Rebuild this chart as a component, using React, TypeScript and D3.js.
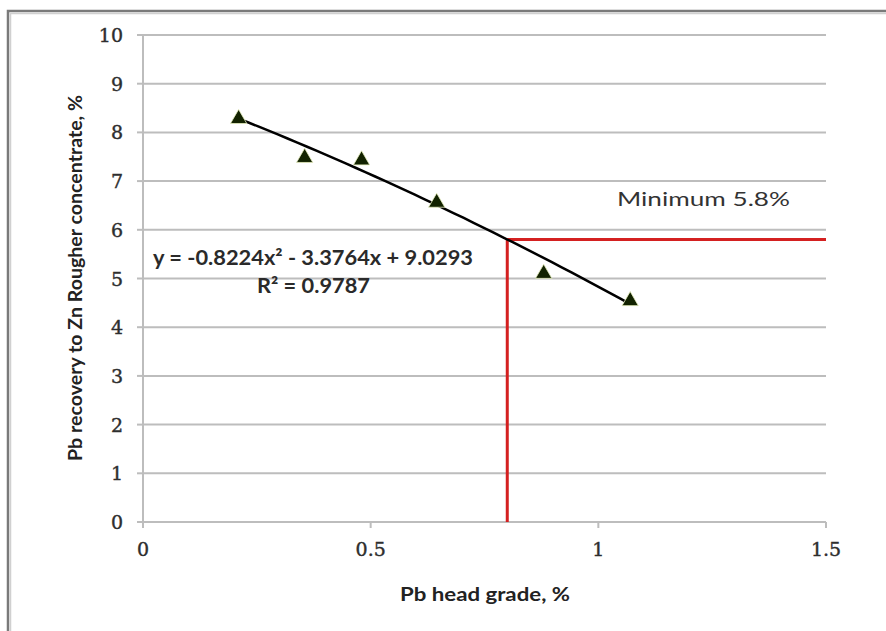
import React from "react";
import * as d3 from "d3";

const xTicks = [0, 0.5, 1, 1.5];
const yTicks = [0, 1, 2, 3, 4, 5, 6, 7, 8, 9, 10];
const headGrade = [0.21, 0.355, 0.48, 0.645, 0.88, 1.07];
const recovery = [8.3, 7.5, 7.45, 6.58, 5.12, 4.56];
const trendCoef = [-0.8224, -3.3764, 9.0293];
const minGrade = [0.8];
const minRecovery = [5.8];
const eqText = ["y = -0.8224x² - 3.3764x + 9.0293", "R² = 0.9787"];
const minLabel = "Minimum 5.8%";
const xTitle = "Pb head grade, %";
const yTitle = "Pb recovery to Zn Rougher concentrate, %";

const W = 886, H = 631;
const L = 143, R = 826, T = 35, B = 522;

export default function App() {
  const x = d3.scaleLinear().domain([0, 1.5]).range([L, R]);
  const y = d3.scaleLinear().domain([0, 10]).range([B, T]);
  const f = (v: number) => trendCoef[0] * v * v + trendCoef[1] * v + trendCoef[2];
  const x0 = d3.min(headGrade)!, x1 = d3.max(headGrade)!;
  const trendPts = d3.range(0, 41).map((i) => x0 + ((x1 - x0) * i) / 40);
  const line = d3.line<number>().x((v) => x(v)).y((v) => y(f(v)));
  const tri = d3.symbol().type(d3.symbolTriangle).size(115)()!;
  const sans = "Lato, 'Open Sans', sans-serif";
  const serif = "'DejaVu Serif', 'Liberation Serif', serif";
  return (
    <svg width={W} height={H} style={{ position: "absolute", left: 0, top: 0, background: "#fff" }}>
      <rect x={0} y={0} width={W} height={H} fill="#fff" />
      <rect x={8} y={11} width={W + 10} height={H + 10} fill="none" stroke="#7a7a7a" strokeWidth={2.5} />
      <rect x={10.5} y={13.5} width={W + 10} height={H + 10} fill="none" stroke="#d0d0d0" strokeWidth={1.5} />
      {yTicks.map((t) => (
        <g key={"y" + t}>
          <line x1={L} x2={R} y1={y(t)} y2={y(t)} stroke="#bdbdbd" strokeWidth={2} />
          <line x1={L - 6} x2={L} y1={y(t)} y2={y(t)} stroke="#bdbdbd" strokeWidth={2} />
          <text x={L - 20} y={y(t)} textAnchor="end" dominantBaseline="central" fontFamily={serif} fontSize={19} fill="#2e2e2e" stroke="#2e2e2e" strokeWidth={0.4}>{t}</text>
        </g>
      ))}
      <line x1={L} x2={L} y1={T} y2={B} stroke="#bdbdbd" strokeWidth={2} />
      {xTicks.map((t) => (
        <g key={"x" + t}>
          <line x1={x(t)} x2={x(t)} y1={B} y2={B + 6} stroke="#bdbdbd" strokeWidth={2} />
          <text x={x(t)} y={B + 27} textAnchor="middle" dominantBaseline="central" fontFamily={serif} fontSize={19} fill="#2e2e2e" stroke="#2e2e2e" strokeWidth={0.4}>{t}</text>
        </g>
      ))}
      <line x1={x(minGrade[0])} x2={x(minGrade[0])} y1={y(0)} y2={y(minRecovery[0])} stroke="#d42020" strokeWidth={3} />
      <line x1={x(minGrade[0])} x2={R} y1={y(minRecovery[0])} y2={y(minRecovery[0])} stroke="#d42020" strokeWidth={3} />
      <path d={line(trendPts)!} fill="none" stroke="#000" strokeWidth={2.5} />
      {headGrade.map((g, i) => (
        <path key={"p" + i} d={tri} transform={`translate(${x(g)},${y(recovery[i]) + 1})`} fill="#122200" stroke="#e8f0c0" strokeWidth={0.8} />
      ))}
      <text x={617} y={198} dominantBaseline="central" fontFamily={sans} fontSize={19} fill="#333" textLength={173} lengthAdjust="spacingAndGlyphs">{minLabel}</text>
      <text x={153} y={257} dominantBaseline="central" fontFamily={sans} fontWeight="bold" fontSize={20} fill="#2a2a2a" textLength={320} lengthAdjust="spacingAndGlyphs">{eqText[0]}</text>
      <text x={257} y={285} dominantBaseline="central" fontFamily={sans} fontWeight="bold" fontSize={20} fill="#2a2a2a" textLength={113} lengthAdjust="spacingAndGlyphs">{eqText[1]}</text>
      <text x={400} y={593} dominantBaseline="central" fontFamily={sans} fontWeight="bold" fontSize={19} fill="#222" textLength={170} lengthAdjust="spacingAndGlyphs">{xTitle}</text>
      <text transform={`translate(74,278) rotate(-90)`} textAnchor="middle" dominantBaseline="central" fontFamily={sans} fontWeight="bold" fontSize={19} fill="#222" textLength={366} lengthAdjust="spacingAndGlyphs">{yTitle}</text>
    </svg>
  );
}
